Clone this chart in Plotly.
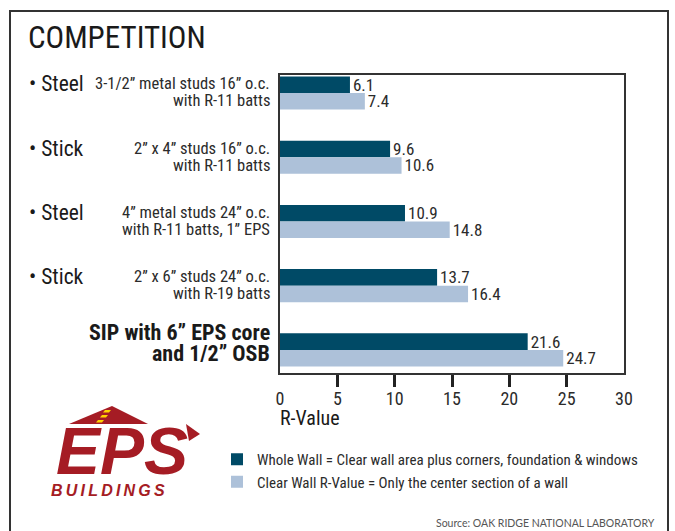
import plotly.graph_objects as go

# ---- data ----
categories = ["Steel 3-1/2in 16oc", "Stick 2x4 16oc", "Steel 4in 24oc", "Stick 2x6 24oc", "SIP 6in EPS"]
wall_types = ["Steel", "Stick", "Steel", "Stick", ""]
desc_line1 = ["3-1/2” metal studs 16” o.c.", "2” x 4” studs 16” o.c.", "4” metal studs 24” o.c.", "2” x 6” studs 24” o.c.", "SIP with 6” EPS core"]
desc_line2 = ["with R-11 batts", "with R-11 batts", "with R-11 batts, 1” EPS", "with R-19 batts", "and 1/2” OSB"]
whole_wall = [6.1, 9.6, 10.9, 13.7, 21.6]
clear_wall = [7.4, 10.6, 14.8, 16.4, 24.7]
x_ticks = [0, 5, 10, 15, 20, 25, 30]
tick_marks = [5, 10, 15, 20, 25]
name_whole = "Whole Wall = Clear wall area plus corners, foundation & windows"
name_clear = "Clear Wall R-Value = Only the center section of a wall"

DARK = "#004a66"
LIGHT = "#adc1d9"
TXT = "#2b2b2b"
RED = "#a51c24"
FONT = "Liberation Sans Narrow, Roboto Condensed, Arial Narrow, sans-serif"

L, R, T, B = 280, 624, 75, 373
W, H = 675, 531

def px(x):
    return (x - L) / (R - L)

def py(y):
    return (B - y) / (B - T)

fig = go.Figure()
fig.add_trace(go.Bar(
    y=categories, x=whole_wall, orientation="h", name=name_whole,
    marker=dict(color=DARK, line=dict(width=0)),
    text=[f"{v:.1f}" for v in whole_wall], textposition="outside",
    textfont=dict(size=17, color=TXT, family=FONT), constraintext="none",
    cliponaxis=False,
))
fig.add_trace(go.Bar(
    y=categories, x=clear_wall, orientation="h", name=name_clear,
    marker=dict(color=LIGHT, line=dict(width=0)),
    text=[f"{v:.1f}" for v in clear_wall], textposition="outside",
    textfont=dict(size=17, color=TXT, family=FONT), constraintext="none",
    cliponaxis=False,
))

annotations = []
for i, cat in enumerate(categories):
    last = (i == len(categories) - 1)
    if wall_types[i]:
        annotations.append(dict(
            x=px(27), xref="paper", y=cat, yref="y", xanchor="left", yanchor="middle",
            text="• " + wall_types[i], showarrow=False, yshift=9,
            font=dict(size=21.5, color="#1a1a1a", family=FONT)))
    if last:
        f = dict(size=22, color="#1a1a1a", family=FONT, weight="bold")
        s1, s2 = 17, -4
    else:
        f = dict(size=16.5, color=TXT, family=FONT)
        s1, s2 = 9, -8
    annotations.append(dict(
        x=px(272), xref="paper", y=cat, yref="y", xanchor="right", yanchor="middle",
        text=desc_line1[i], showarrow=False, yshift=s1, font=f))
    annotations.append(dict(
        x=px(272), xref="paper", y=cat, yref="y", xanchor="right", yanchor="middle",
        text=desc_line2[i], showarrow=False, yshift=s2, font=f))

annotations += [
    dict(x=px(26), xref="paper", y=py(38), yref="paper", xanchor="left", yanchor="middle",
         text="COMPETITION", showarrow=False, font=dict(size=31, color="#1a1a1a", family=FONT)),
    dict(x=px(278), xref="paper", y=py(418), yref="paper", xanchor="left", yanchor="middle",
         text="R-Value", showarrow=False, font=dict(size=20, color="#1a1a1a", family=FONT)),
    dict(x=px(657), xref="paper", y=py(523), yref="paper", xanchor="right", yanchor="middle",
         text="Source: OAK RIDGE NATIONAL LABORATORY", showarrow=False,
         font=dict(size=10.5, color="#555555", family="Lato, Liberation Sans, sans-serif")),
    # logo text
    dict(x=px(122), xref="paper", y=py(451), yref="paper", xanchor="center", yanchor="middle",
         text="EPS", showarrow=False,
         font=dict(size=66, color=RED, family="Liberation Sans, sans-serif", weight="bold", style="italic")),
    dict(x=px(108), xref="paper", y=py(490), yref="paper", xanchor="center", yanchor="middle",
         text="B\u2009U\u2009I\u2009L\u2009D\u2009I\u2009N\u2009G\u2009S", showarrow=False,
         font=dict(size=16, color=RED, family="Liberation Sans, sans-serif", weight="bold", style="italic")),
]

def path(points):
    return "M " + " L ".join(f"{px(x)},{py(y)}" for x, y in points) + " Z"

shapes = [
    # outer frame (open at the bottom edge of the picture)
    dict(type="rect", xref="paper", yref="paper", x0=px(10), x1=px(668), y0=py(545), y1=py(11),
         line=dict(color="#333333", width=2), fillcolor="rgba(0,0,0,0)", layer="below"),
    # logo roof
    dict(type="path", xref="paper", yref="paper", path=path([(69, 424), (112, 406), (148, 424)]),
         fillcolor=RED, line=dict(width=0)),
    dict(type="path", xref="paper", yref="paper", path=path([(105, 410), (111, 410), (109, 412.5), (103, 412.5)]),
         fillcolor="#ffd200", line=dict(width=0)),
    dict(type="path", xref="paper", yref="paper", path=path([(102, 415), (108, 415), (106, 417.5), (100, 417.5)]),
         fillcolor="#ffd200", line=dict(width=0)),
    dict(type="path", xref="paper", yref="paper", path=path([(98, 420), (104, 420), (102, 422.5), (96, 422.5)]),
         fillcolor="#ffd200", line=dict(width=0)),
    dict(type="path", xref="paper", yref="paper", path=path([(186, 424), (200, 434), (189, 441)]),
         fillcolor=RED, line=dict(width=0)),
]

fig.update_layout(
    width=W, height=H,
    margin=dict(l=L, r=W - R, t=T, b=H - B, pad=0),
    paper_bgcolor="white", plot_bgcolor="white",
    barmode="group", bargap=0.485, bargroupgap=0,
    font=dict(family=FONT, color=TXT),
    showlegend=True,
    legend=dict(x=px(217), y=py(443), xanchor="left", yanchor="top",
                font=dict(size=15, color=TXT, family=FONT),
                traceorder="normal", bgcolor="rgba(0,0,0,0)", itemclick=False,
                tracegroupgap=0),
    annotations=annotations,
    shapes=shapes,
    xaxis=dict(range=[0, 30], tickvals=x_ticks, ticktext=[str(v) for v in x_ticks],
               ticks="", showgrid=False, zeroline=False,
               showline=True, mirror=True, linecolor="#333333", linewidth=1.5,
               tickfont=dict(size=18, color=TXT, family=FONT), ticklabelstandoff=9,
               minor=dict(tickvals=tick_marks, ticks="outside", ticklen=12, tickwidth=2.5,
                          tickcolor="#222222", showgrid=False)),
    yaxis=dict(range=[4.36, -0.28], showticklabels=False, ticks="", showgrid=False,
               zeroline=False, showline=True, mirror=True, linecolor="#333333", linewidth=1.5),
)

fig.write_html("out.html", config={"displayModeBar": False},
               post_script="document.body.style.margin='0';document.body.style.overflow='hidden';")
